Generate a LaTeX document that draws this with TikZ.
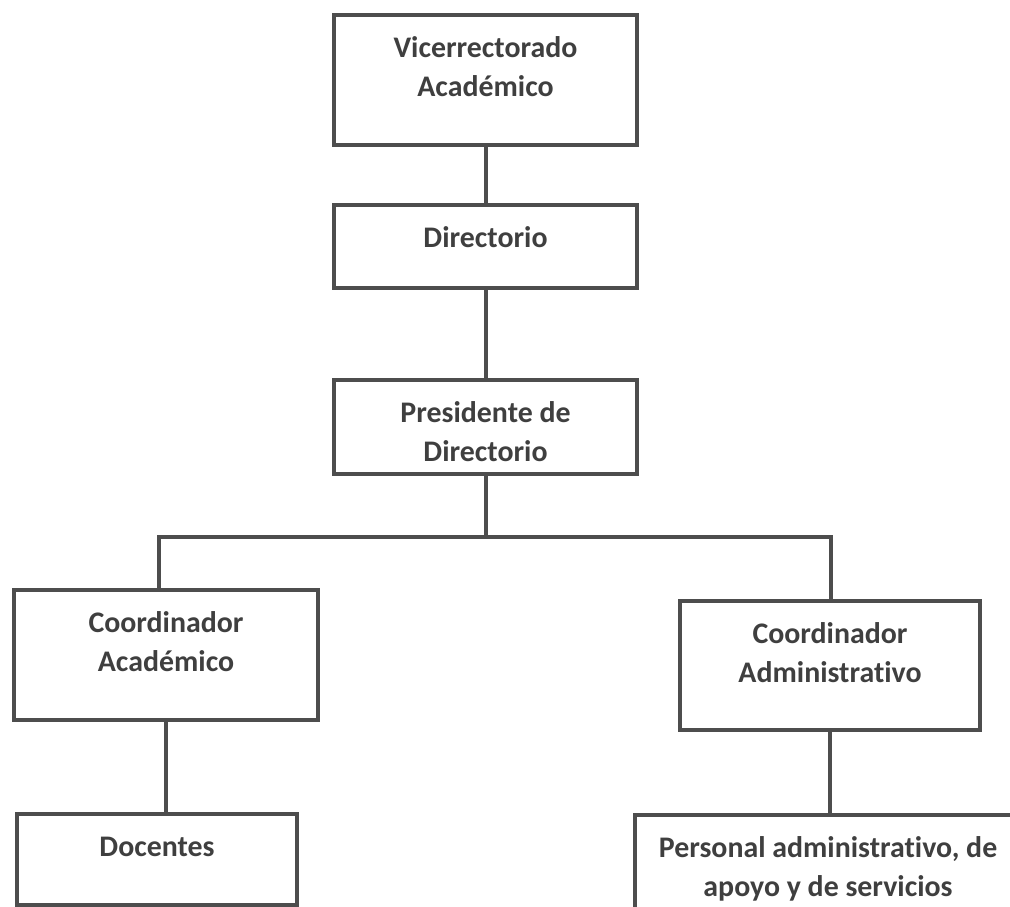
\documentclass[tikz,border=0pt]{standalone}
\usepackage{fontspec}
\setmainfont{Carlito}[Ligatures=NoCommon]
\usepackage{xcolor}
\usepackage{tikz}
\usetikzlibrary{positioning}

\newlength{\pxu}
\setlength{\pxu}{0.02cm}
\newcommand{\boxtxt}[3]{\parbox[c][#2\pxu][t]{#1\pxu}{\centering\vspace*{15\pxu}\strut #3}}
\definecolor{linegray}{HTML}{4D4D4D}
\definecolor{textgray}{HTML}{3F3F3F}

\begin{document}
\begin{tikzpicture}[x=\pxu, y=-\pxu, orgbox/.style={rectangle, draw=linegray, line width=2.3pt, inner sep=0pt, anchor=north west, text=textgray, font=\fontsize{17}{22.2}\selectfont\bfseries}, conn/.style={draw=linegray, line width=2.3pt}]
    \useasboundingbox (0,0) rectangle (1010,906);
    \clip (0,0) rectangle (1010,906);
    \node[orgbox] (vice) at (332,13) {\boxtxt{303}{130}{Vicerrectorado\\Académico}};
    \node[orgbox] (dir) at (332,203) {\boxtxt{303}{83}{Directorio}};
    \node[orgbox] (pres) at (332,378) {\boxtxt{303}{94}{Presidente de\\Directorio}};
    \node[orgbox] (coordac) at (12,588) {\boxtxt{304}{130}{Coordinador\\Académico}};
    \node[orgbox] (coordadm) at (678,599) {\boxtxt{300}{129}{Coordinador\\Administrativo}};
    \node[orgbox] (doc) at (15,812) {\boxtxt{280}{91}{Docentes}};
    \node[orgbox] (pers) at (633,813) {\boxtxt{386}{120}{Personal administrativo, de\\apoyo y de servicios}};
    \coordinate (busL) at (159,537);
    \coordinate (busR) at (831,537);
    \draw[conn] (vice) -- (dir);
    \draw[conn] (dir) -- (pres);
    \draw[conn] (pres.south) -- (pres.south |- busL);
    \draw[conn] (busL |- coordac.north) -- (busL) -- (busR) -- (busR |- coordadm.north);
    \draw[conn] (coordac.south) -- (coordac.south |- doc.north);
    \draw[conn] (coordadm.south) -- (coordadm.south |- pers.north);
\end{tikzpicture}
\end{document}
